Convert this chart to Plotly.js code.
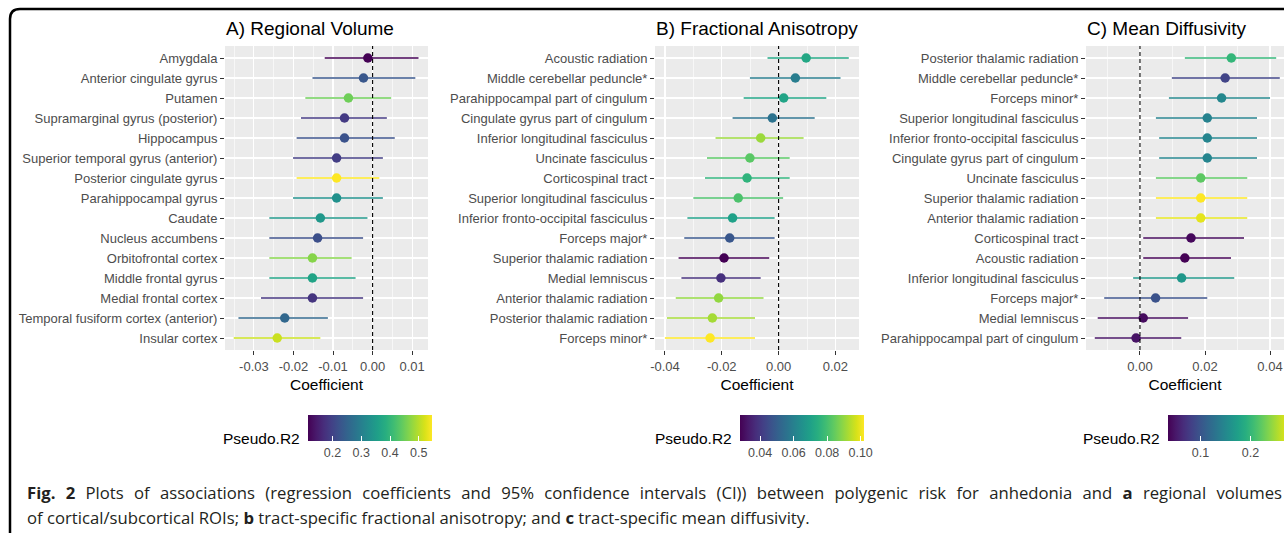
<!DOCTYPE html>
<html><head><meta charset="utf-8">
<script src="https://cdn.plot.ly/plotly-3.0.1.min.js"></script>
<style>html,body{margin:0;padding:0;background:#fff;overflow:hidden}#chart{width:1284px;height:533px}</style>
</head><body><div id="chart"></div>
<script>
// ---------- Panel A: Regional Volume ----------
const volRegions = ["Amygdala","Anterior cingulate gyrus","Putamen","Supramarginal gyrus (posterior)","Hippocampus","Superior temporal gyrus (anterior)","Posterior cingulate gyrus","Parahippocampal gyrus","Caudate","Nucleus accumbens","Orbitofrontal cortex","Middle frontal gyrus","Medial frontal cortex","Temporal fusiform cortex (anterior)","Insular cortex"];
const volCoef = [-0.0012,-0.0023,-0.0061,-0.0071,-0.0071,-0.0091,-0.0091,-0.0091,-0.0132,-0.0139,-0.0152,-0.0152,-0.0152,-0.0222,-0.0241];
const volLow  = [-0.0121,-0.0152,-0.0170,-0.0181,-0.0192,-0.0201,-0.0192,-0.0201,-0.0261,-0.0261,-0.0261,-0.0261,-0.0282,-0.0339,-0.0351];
const volHigh = [0.0116,0.0108,0.0047,0.0036,0.0056,0.0026,0.0017,0.0026,-0.0013,-0.0024,-0.0053,-0.0043,-0.0024,-0.0113,-0.0132];
const volR2   = [0.115,0.231,0.451,0.188,0.223,0.193,0.546,0.331,0.343,0.218,0.468,0.365,0.180,0.257,0.512];
const volTicks = [-0.03,-0.02,-0.01,0,0.01];
const volTickText = ["-0.03","-0.02","-0.01","0.00","0.01"];
const volBarTicks = [0.2,0.3,0.4,0.5];
const volBarText = ["0.2","0.3","0.4","0.5"];

// ---------- Panel B: Fractional Anisotropy ----------
const faTracts = ["Acoustic radiation","Middle cerebellar peduncle*","Parahippocampal part of cingulum","Cingulate gyrus part of cingulum","Inferior longitudinal fasciculus","Uncinate fasciculus","Corticospinal tract","Superior longitudinal fasciculus","Inferior fronto-occipital fasciculus","Forceps major*","Superior thalamic radiation","Medial lemniscus","Anterior thalamic radiation","Posterior thalamic radiation","Forceps minor*"];
const faCoef = [0.0097,0.0059,0.0018,-0.0022,-0.0063,-0.0101,-0.0111,-0.0142,-0.0162,-0.0172,-0.0192,-0.0203,-0.0211,-0.0233,-0.0241];
const faLow  = [-0.0039,-0.0101,-0.0123,-0.0162,-0.0222,-0.0252,-0.0259,-0.0300,-0.0321,-0.0332,-0.0352,-0.0342,-0.0362,-0.0393,-0.0400];
const faHigh = [0.0247,0.0218,0.0168,0.0127,0.0088,0.0039,0.0039,0.0016,-0.0014,-0.0014,-0.0033,-0.0063,-0.0053,-0.0083,-0.0083];
const faR2   = [0.072,0.059,0.071,0.056,0.091,0.083,0.076,0.081,0.070,0.048,0.028,0.038,0.090,0.092,0.102];
const faTicks = [-0.04,-0.02,0,0.02];
const faTickText = ["-0.04","-0.02","0.00","0.02"];
const faBarTicks = [0.04,0.06,0.08,0.10];
const faBarText = ["0.04","0.06","0.08","0.10"];

// ---------- Panel C: Mean Diffusivity ----------
const mdTracts = ["Posterior thalamic radiation","Middle cerebellar peduncle*","Forceps minor*","Superior longitudinal fasciculus","Inferior fronto-occipital fasciculus","Cingulate gyrus part of cingulum","Uncinate fasciculus","Superior thalamic radiation","Anterior thalamic radiation","Corticospinal tract","Acoustic radiation","Inferior longitudinal fasciculus","Forceps major*","Medial lemniscus","Parahippocampal part of cingulum"];
const mdCoef = [0.0281,0.0262,0.0251,0.0207,0.0207,0.0207,0.0187,0.0187,0.0187,0.0157,0.0138,0.0128,0.0048,0.0010,-0.0012];
const mdLow  = [0.0138,0.0098,0.0089,0.0049,0.0059,0.0059,0.0049,0.0049,0.0049,0.0010,0.0010,-0.0021,-0.0110,-0.0130,-0.0139];
const mdHigh = [0.0419,0.0430,0.0400,0.0360,0.0360,0.0360,0.0330,0.0330,0.0330,0.0320,0.0280,0.0290,0.0207,0.0148,0.0127];
const mdR2   = [0.199,0.085,0.149,0.144,0.147,0.147,0.221,0.283,0.273,0.040,0.035,0.166,0.097,0.042,0.047];
const mdTicks = [0,0.02,0.04];
const mdTickText = ["0.00","0.02","0.04"];
const mdBarTicks = [0.1,0.2];
const mdBarText = ["0.1","0.2"];

const titles = ["A) Regional Volume","B) Fractional Anisotropy","C) Mean Diffusivity"];
const xTitle = "Coefficient";
const barTitle = "Pseudo.R2";
const caption1 = "<b>Fig. 2</b> Plots of associations (regression coefficients and 95% confidence intervals (CI)) between polygenic risk for anhedonia and <b>a</b> regional volumes";
const caption2 = "of cortical/subcortical ROIs; <b>b</b> tract-specific fractional anisotropy; and <b>c</b> tract-specific mean diffusivity.";

// ---------- styling / layout ----------
const W = 1284, H = 533;
const VIR = [[0,'#440154'],[0.0627,'#48186a'],[0.1255,'#472d7b'],[0.1882,'#424086'],[0.2510,'#3b528b'],[0.3137,'#33638d'],[0.3765,'#2c728e'],[0.4392,'#26828e'],[0.5020,'#21918c'],[0.5647,'#1fa088'],[0.6275,'#28ae80'],[0.6902,'#3fbc73'],[0.7529,'#5ec962'],[0.8157,'#84d44b'],[0.8784,'#addc30'],[0.9412,'#d8e219'],[1,'#fde725']];
function hex2rgb(h){return [parseInt(h.substr(1,2),16),parseInt(h.substr(3,2),16),parseInt(h.substr(5,2),16)];}
function vir(t){
  t = Math.max(0, Math.min(1, t));
  for (let i = 1; i < VIR.length; i++) {
    if (t <= VIR[i][0]) {
      const a = VIR[i-1], b = VIR[i];
      const f = (t - a[0]) / (b[0] - a[0]);
      const ca = hex2rgb(a[1]), cb = hex2rgb(b[1]);
      return 'rgb(' + ca.map((v,k)=>Math.round(v + f*(cb[k]-v))).join(',') + ')';
    }
  }
  return VIR[VIR.length-1][1];
}
const px = x => x / W;
const py = y => 1 - y / H;

const panels = [
  {cats: volRegions, coef: volCoef, low: volLow, high: volHigh, r2: volR2, ticks: volTicks, tickText: volTickText, minor: 0.005,
   x0: 225, x1: 428, range: [-0.0373, 0.0140], barX: 308, barLabelX: 302, barTicks: volBarTicks, barText: volBarText},
  {cats: faTracts, coef: faCoef, low: faLow, high: faHigh, r2: faR2, ticks: faTicks, tickText: faTickText, minor: 0.01,
   x0: 655, x1: 859, range: [-0.0435, 0.0283], barX: 740, barLabelX: 734, barTicks: faBarTicks, barText: faBarText},
  {cats: mdTracts, coef: mdCoef, low: mdLow, high: mdHigh, r2: mdR2, ticks: mdTicks, tickText: mdTickText, minor: 0.01,
   x0: 1086, x1: 1284, range: [-0.0166, 0.0443], barX: 1168, barLabelX: 1162, barTicks: mdBarTicks, barText: mdBarText}
];

const plotTop = 46, plotBot = 350;
const capLeft = 25, capRight = 1280;
const data = [];
const layout = {
  width: W, height: H,
  margin: {l:0, r:0, t:0, b:0, autoexpand: false},
  paper_bgcolor: '#ffffff',
  plot_bgcolor: '#ebebeb',
  showlegend: false,
  font: {family: 'Liberation Sans, Arial, sans-serif', color: '#000'},
  shapes: [], annotations: []
};

panels.forEach((p, i) => {
  const n = i === 0 ? '' : String(i + 1);
  const xa = 'x' + n, ya = 'y' + n, ca = 'coloraxis' + n;
  const cmin = Math.min(...p.r2), cmax = Math.max(...p.r2);
  // CI lines
  p.cats.forEach((c, k) => {
    data.push({type: 'scatter', mode: 'lines', x: [p.low[k], p.high[k]], y: [c, c],
      xaxis: xa, yaxis: ya, line: {color: vir((p.r2[k] - cmin) / (cmax - cmin)), width: 1.3},
      hoverinfo: 'skip', showlegend: false});
  });
  // points
  data.push({type: 'scatter', mode: 'markers', x: p.coef, y: p.cats, xaxis: xa, yaxis: ya,
    marker: {size: 9.5, color: p.r2, coloraxis: ca}, showlegend: false});

  layout['xaxis' + n] = {
    domain: [px(p.x0), px(p.x1)], anchor: ya, range: p.range,
    tickmode: 'array', tickvals: p.ticks, ticktext: p.tickText,
    ticks: 'outside', ticklen: 4, tickcolor: '#333', tickwidth: 1,
    tickfont: {size: 13, color: '#4d4d4d'},
    showgrid: true, gridcolor: '#ffffff', gridwidth: 1.2, zeroline: false, showline: false,
    minor: {dtick: p.minor, tick0: 0, showgrid: true, gridcolor: '#ffffff', gridwidth: 0.6, ticks: ''},
    title: {text: xTitle, font: {size: 15.5, color: '#000'}, standoff: 6},
    automargin: false, fixedrange: true
  };
  layout['yaxis' + n] = {
    domain: [py(plotBot), py(plotTop)], anchor: xa,
    type: 'category', categoryorder: 'array', categoryarray: p.cats,
    range: [p.cats.length - 0.4, -0.6],
    ticks: 'outside', ticklen: 4, tickcolor: '#333', tickwidth: 1,
    tickfont: {size: 13, color: '#4d4d4d'},
    showgrid: true, gridcolor: '#ffffff', gridwidth: 1.2, zeroline: false, showline: false,
    automargin: false, fixedrange: true
  };
  layout[ca] = {
    colorscale: VIR, cmin: cmin, cmax: cmax,
    colorbar: {
      orientation: 'h', x: px(p.barX), xanchor: 'left', y: py(415), yanchor: 'top',
      len: 124, lenmode: 'pixels', thickness: 26, thicknessmode: 'pixels',
      xpad: 0, ypad: 0, outlinewidth: 0,
      tickmode: 'array', tickvals: p.barTicks, ticktext: p.barText,
      ticks: 'inside', ticklen: 5, tickcolor: '#ffffff', tickwidth: 1,
      tickfont: {size: 12.5, color: '#4d4d4d'}
    }
  };
  // zero line
  layout.shapes.push({type: 'line', xref: xa, yref: ya + ' domain', x0: 0, x1: 0, y0: 0, y1: 1,
    line: {color: '#000', width: 1.1, dash: '4px,3px'}, layer: 'above'});
  // panel title
  layout.annotations.push({text: titles[i], xref: 'paper', yref: 'paper', x: px(p.x0 - 1), y: py(29),
    xanchor: 'left', yanchor: 'middle', showarrow: false, font: {size: 19, color: '#000'}});
  // colorbar label
  layout.annotations.push({text: barTitle, xref: 'paper', yref: 'paper', x: px(p.barLabelX), y: py(438),
    xanchor: 'right', yanchor: 'middle', showarrow: false, font: {size: 15.5, color: '#000'}});
});

// caption
const capFont = {family: 'Open Sans, Noto Sans, sans-serif', size: 16.7, color: '#231f20'};
layout.annotations.push({text: caption1, xref: 'paper', yref: 'paper', x: px(capLeft), y: py(492.5),
  xanchor: 'left', yanchor: 'middle', showarrow: false, align: 'left', font: capFont});
layout.annotations.push({text: caption2, xref: 'paper', yref: 'paper', x: px(capLeft), y: py(517.5),
  xanchor: 'left', yanchor: 'middle', showarrow: false, align: 'left', font: capFont});

// surrounding frame (rounded top-left corner; other edges run off the picture)
const bx = px(10), by = py(9), rx = 10 / W, ry = 10 / H;
layout.shapes.push({type: 'path', xref: 'paper', yref: 'paper',
  path: `M ${bx} -0.1 L ${bx} ${by - ry} Q ${bx} ${by} ${bx + rx} ${by} L 1.1 ${by}`,
  line: {color: '#000', width: 2.5}, layer: 'above'});

Plotly.newPlot('chart', data, layout, {staticPlot: true, displayModeBar: false}).then(gd => {
  // justify the first caption line across the full width, as in the printed figure
  gd.querySelectorAll('.annotation-text').forEach(t => {
    if (t.textContent.indexOf('Fig. 2') === 0) {
      const before = t.getBBox();
      const natural = t.getComputedTextLength();
      const spaces = (t.textContent.match(/ /g) || []).length;
      const extra = (capRight - capLeft) - natural;
      if (spaces > 0 && extra > 0) {
        t.style.wordSpacing = (extra / spaces) + 'px';
        const after = t.getBBox();
        // keep the left edge where it was
        const shift = before.x - after.x;
        if (Math.abs(shift) > 0.5) {
          const tr = t.getAttribute('transform') || '';
          t.setAttribute('transform', tr + ' translate(' + shift + ',0)');
        }
      }
    }
  });
});
</script>
</body></html>
